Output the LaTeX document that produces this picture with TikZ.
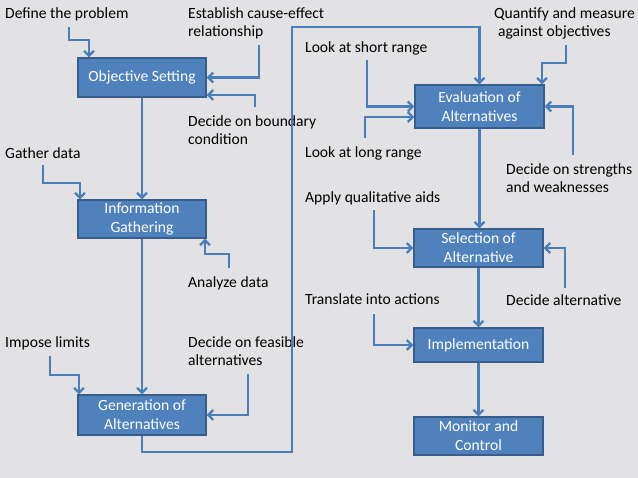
\documentclass[tikz,border=0pt]{standalone}
\usepackage{fontspec}
\setmainfont{Carlito}
\usetikzlibrary{arrows.meta}
\definecolor{bgc}{RGB}{226,226,228}
\definecolor{boxfill}{RGB}{79,129,189}
\definecolor{boxline}{RGB}{56,93,138}
\definecolor{linec}{RGB}{74,126,187}
\tikzset{
  box/.style={draw=boxline, line width=1.2pt, fill=boxfill, text=white, align=center,
    minimum width=128pt, inner sep=0pt, font=\fontsize{15.6}{19}\selectfont},
  lbl/.style={anchor=base west, inner sep=0pt, align=left, text=black,
    font=\fontsize{15.6}{18}\selectfont},
  conn/.style={draw=linec, line width=2.3pt, -{Straight Barb[length=5pt,width=10pt]}},
  plain/.style={draw=linec, line width=2.3pt}
}
\begin{document}
\begin{tikzpicture}[x=1pt,y=-1pt]
\useasboundingbox (0,0) rectangle (638,478);
\fill[bgc] (0,0) rectangle (638,478);
% boxes
\node[box, minimum height=39pt] (obj) at (142,77.5) {Objective Setting};
\node[box, minimum height=38pt] (info) at (142,219) {Information\\Gathering};
\node[box, minimum height=40pt] (gen) at (142,415) {Generation of\\Alternatives};
\node[box, minimum width=129pt, minimum height=43pt] (eval) at (479.5,106.5) {Evaluation of\\Alternatives};
\node[box, minimum width=129pt, minimum height=38pt] (sel) at (478.5,248) {Selection of\\Alternative};
\node[box, minimum width=129pt, minimum height=34pt] (impl) at (478.5,345) {Implementation};
\node[box, minimum width=129pt, minimum height=38pt] (mon) at (478.5,436) {Monitor and\\Control};
% labels (anchor = baseline of last line)
\node[lbl] (tdef) at (5,19) {Define the problem};
\node[lbl] (test) at (188,37) {Establish cause-effect\\relationship};
\node[lbl] (tbnd) at (188,145) {Decide on boundary\\condition};
\node[lbl] (tgat) at (5,159) {Gather data};
\node[lbl] (tana) at (188,288) {Analyze data};
\node[lbl] (timp) at (5,348) {Impose limits};
\node[lbl] (tfea) at (188,366) {Decide on feasible\\alternatives};
\node[lbl] (tsho) at (305,53) {Look at short range};
\node[lbl] (tlon) at (305,158) {Look at long range};
\node[lbl] (tqua) at (494,37) {Quantify and measure\\\hspace*{4pt}against objectives};
\node[lbl] (tstr) at (506,193) {Decide on strengths\\and weaknesses};
\node[lbl] (tapp) at (305,203) {Apply qualitative aids};
\node[lbl] (ttra) at (305,305) {Translate into actions};
\node[lbl] (tdal) at (506,306) {Decide alternative};
% free ends
\coordinate (cdef) at (69,27);
\coordinate (cest) at (259,45);
\coordinate (cbnd) at (255,107);
\coordinate (cgat) at (43,165);
\coordinate (cana) at (229,268);
\coordinate (cimp) at (50,356);
\coordinate (cfea) at (248,374);
\coordinate (csho) at (367,60);
\coordinate (clon) at (365,138);
\coordinate (cqua) at (566,45);
\coordinate (cstr) at (573,155);
\coordinate (capp) at (374,210);
\coordinate (ctra) at (374,314);
\coordinate (cdal) at (565,288);
% main flow
\draw[conn] (obj.south) -- (info.north);
\draw[conn] (info.south) -- (gen.north);
\draw[conn] (gen.south) -- (142,452) -| (292,27) -| (eval.north);
\draw[conn] (eval.south) -- (eval.south |- sel.north);
\draw[conn] (sel.south) -- (impl.north);
\draw[conn] (impl.south) -- (mon.north);
% side inputs
\draw[conn] (cdef) -- (69,40) -| (89,0 |- obj.north);
\draw[conn] (cest) |- (obj.east);
\draw[conn] (cbnd) |- (obj.east |- 0,95);
\draw[conn] (cgat) -- (43,183) -| (80,0 |- info.north);
\draw[conn] (cana) -- (229,254) -| (205,0 |- info.south);
\draw[conn] (cimp) -- (50,375) -| (79,0 |- gen.north);
\draw[conn] (cfea) |- (gen.east);
\draw[conn] (csho) |- (eval.west);
\draw[conn] (clon) |- (eval.west |- 0,117);
\draw[conn] (cqua) -- (566,63) -| (542,0 |- eval.north);
\draw[conn] (cstr) |- (eval.east);
\draw[conn] (capp) |- (sel.west);
\draw[conn] (cdal) |- (sel.east);
\draw[conn] (ctra) |- (impl.west);
\end{tikzpicture}
\end{document}
